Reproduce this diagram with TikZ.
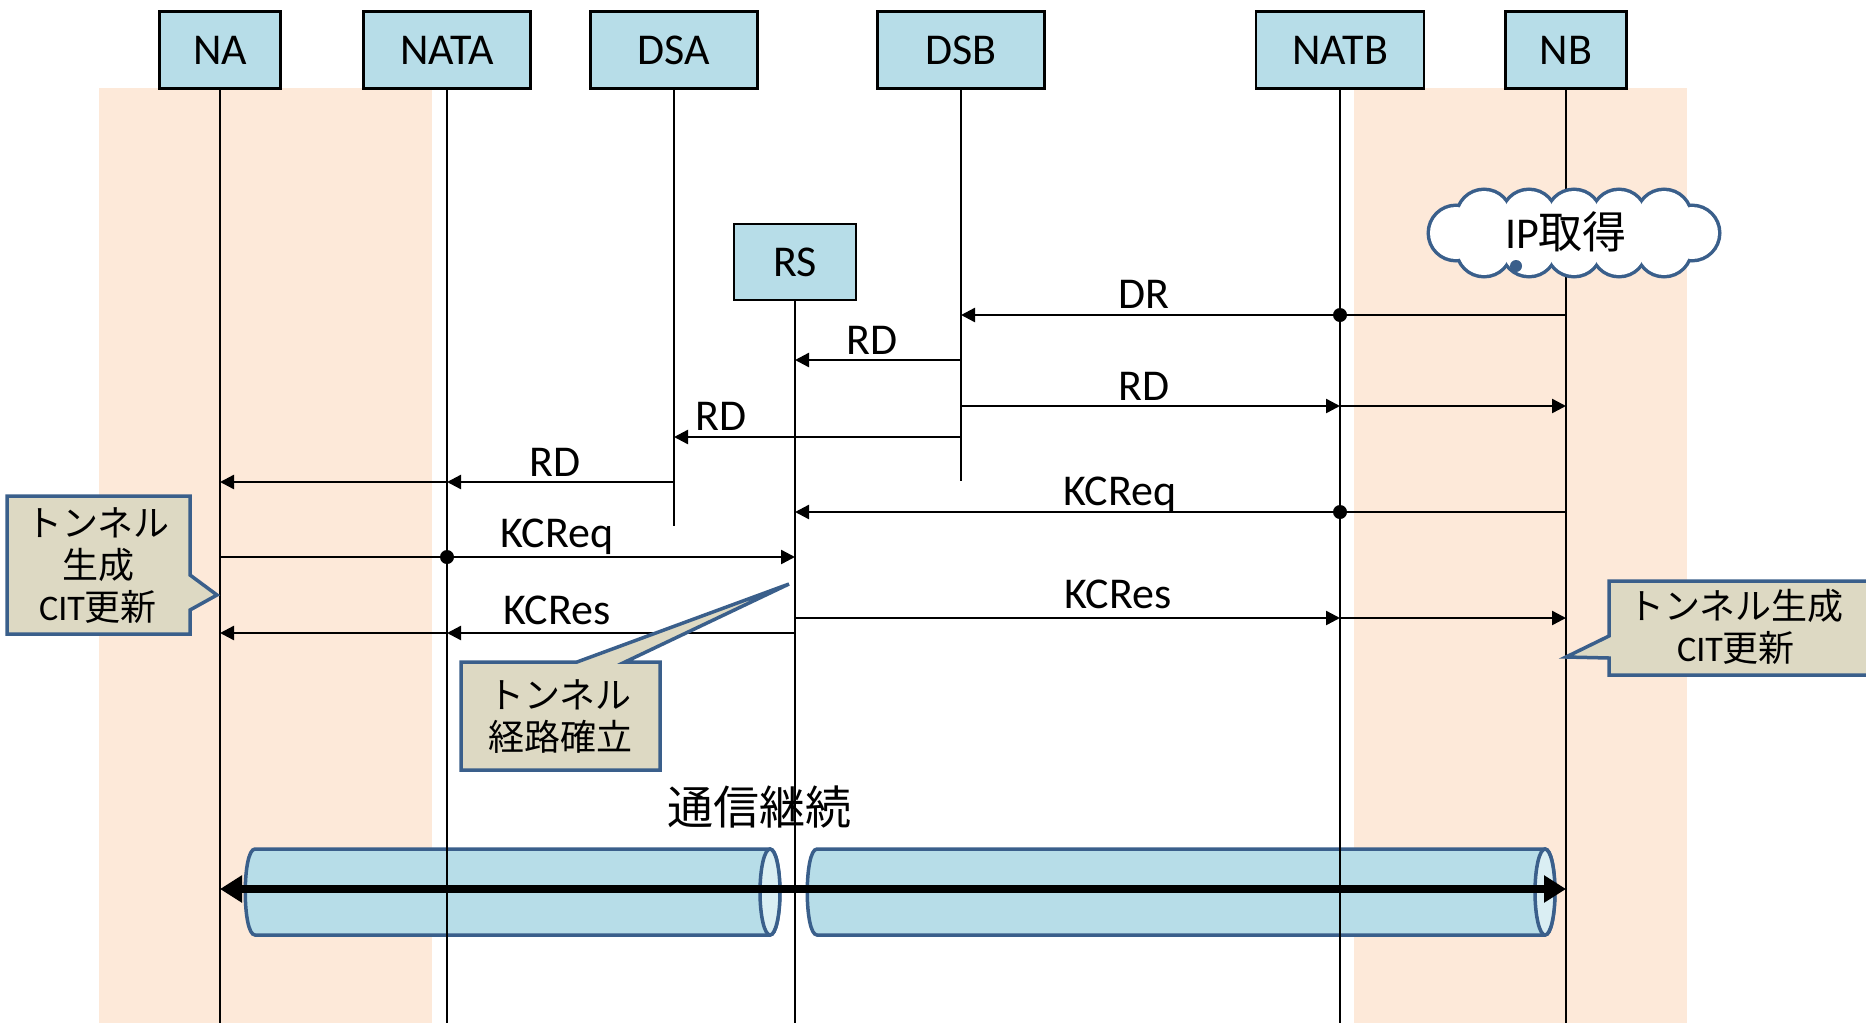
\documentclass[tikz,border=0pt]{standalone}
\usepackage{fontspec}
\setmainfont{Carlito}
\newfontfamily\jp{Noto Sans CJK JP}
\usetikzlibrary{arrows.meta}
\definecolor{boxblue}{HTML}{B7DDE8}
\definecolor{peach}{HTML}{FDE9D9}
\definecolor{notefill}{HTML}{DDD9C3}
\definecolor{noteline}{HTML}{3A5F8B}
\definecolor{tubeend}{HTML}{DAEEF3}

\begin{document}
\begin{tikzpicture}[x=1pt,y=-1pt,
  every node/.style={font=\fontsize{44}{50}\selectfont},
  actor/.style={draw,line width=2.4pt,fill=boxblue,minimum height=77pt,inner sep=0pt},
  life/.style={line width=1.6pt},
  msg/.style={line width=2.4pt,-{Triangle[length=14pt,width=14pt]}},
  joint/.style={circle,fill,inner sep=0pt,minimum size=14pt},
  note/.style={draw=noteline,fill=notefill,line width=3.5pt,line join=miter},
  notetext/.style={font=\fontsize{36}{42}\selectfont,align=center},
  tube/.style={draw=noteline,fill=boxblue,line width=3.5pt},
  tubecap/.style={draw=noteline,fill=tubeend,line width=3.5pt},
  puff/.style={draw=noteline,line width=7pt}]
\useasboundingbox (0,0) rectangle (1866,1023);
% bands behind the two end hosts
\fill[peach] (99,88) rectangle (432,1023);
\fill[peach] (1354,88) rectangle (1687,1023);
% hosts
\node[actor,minimum width=121pt] (na) at (220,50) {NA};
\node[actor,minimum width=167pt] (nata) at (447,50) {NATA};
\node[actor,minimum width=167pt] (dsa) at (674,50) {DSA};
\node[actor,minimum width=167pt] (dsb) at (961,50) {DSB};
\node[actor,minimum width=168pt] (natb) at (1340,50) {NATB};
\node[actor,minimum width=121pt] (nb) at (1566,50) {NB};
\node[actor,minimum width=122pt,minimum height=76pt] (rs) at (795,262) {RS};
% tunnels
\draw[tube] (255,849) -- (770,849) .. controls (783,849) and (783,935) .. (770,935)
  -- (255,935) .. controls (242,935) and (242,849) .. (255,849) -- cycle;
\draw[tubecap] (770,892) ellipse [x radius=10, y radius=43];
\draw[tube] (817,849) -- (1545,849) .. controls (1558,849) and (1558,935) .. (1545,935)
  -- (817,935) .. controls (804,935) and (804,849) .. (817,849) -- cycle;
\draw[tubecap] (1545,892) ellipse [x radius=10, y radius=43];
% rows
\coordinate (bottom) at (0,1023);
\coordinate (r1) at (0,315);
\coordinate (r2) at (0,360);
\coordinate (r3) at (0,406);
\coordinate (r4) at (0,437);
\coordinate (r5) at (0,482);
\coordinate (r6) at (0,512);
\coordinate (r7) at (0,557);
\coordinate (r8) at (0,618);
\coordinate (r9) at (0,633);
\coordinate (rt) at (0,889);
% lifelines
\draw[life] (na.south) -- (na |- bottom);
\draw[life] (nata.south) -- (nata |- bottom);
\draw[life] (dsa.south) -- (dsa |- 0,526);
\draw[life] (dsb.south) -- (dsb |- 0,481);
\draw[life] (natb.south) -- (natb |- bottom);
\draw[life] (nb.south) -- (nb |- bottom);
\draw[life] (rs.south) -- (rs |- bottom);
% messages
\draw[msg] (nb |- r1) -- (dsb |- r1);
\node[joint] (j1) at (natb |- r1) {};
\node[anchor=base] (m1) at (1144,308) {DR};
\draw[msg] (dsb |- r2) -- (rs |- r2);
\node[anchor=base] (m2) at (872,354) {RD};
\draw[msg] (dsb |- r3) -- (natb |- r3);
\draw[msg] (natb |- r3) -- (nb |- r3);
\node[anchor=base] (m3) at (1144,400) {RD};
\draw[msg] (dsb |- r4) -- (dsa |- r4);
\node[anchor=base] (m4) at (721,430) {RD};
\draw[msg] (dsa |- r5) -- (nata |- r5);
\draw[msg] (nata |- r5) -- (na |- r5);
\node[anchor=base] (m5) at (555,476) {RD};
\draw[msg] (nb |- r6) -- (rs |- r6);
\node[joint] (j6) at (natb |- r6) {};
\node[anchor=base] (m6) at (1120,505) {KCReq};
\draw[msg] (na |- r7) -- (rs |- r7);
\node[joint] (j7) at (nata |- r7) {};
\node[anchor=base] (m7) at (557,547) {KCReq};
\draw[msg] (rs |- r8) -- (natb |- r8);
\draw[msg] (natb |- r8) -- (nb |- r8);
\node[anchor=base] (m8) at (1118,608) {KCRes};
\draw[msg] (rs |- r9) -- (nata |- r9);
\draw[msg] (nata |- r9) -- (na |- r9);
\node[anchor=base] (m9) at (557,624) {KCRes};
% continued communication
\node[font=\jp\fontsize{46}{50}\selectfont] (keep) at (759,807) {通信継続};
\draw[line width=8pt,{Triangle[length=22pt,width=26pt]}-{Triangle[length=22pt,width=26pt]}]
  (na |- rt) -- (nb |- rt);
% address acquisition
\begin{scope}[shift={(1574,233)}]
\foreach \dx/\dy in {-90/-16,-45/-16,0/-16,45/-16,90/-16,-90/16,-45/16,0/16,45/16,90/16,-118/0,118/0}
  \draw[puff] (\dx,\dy) circle (26pt);
\foreach \dx/\dy in {-90/-16,-45/-16,0/-16,45/-16,90/-16,-90/16,-45/16,0/16,45/16,90/16,-118/0,118/0}
  \fill[white] (\dx,\dy) circle (26pt);
\fill[white] (0,0) ellipse [x radius=115, y radius=22];
\end{scope}
\fill[noteline] (1516,266) circle (6pt);
\node (ip) at (1566,232) {IP{\jp 取得}};
% callouts
\draw[note] (7,496) -- (190,496) -- (190,575) -- (217,595) -- (190,610) -- (190,634) -- (7,634) -- cycle;
\node[notetext] (noteL) at (98,566) {{\jp トンネル}\\{\jp 生成}\\CIT{\jp 更新}};
\draw[note] (461,662) -- (577,662) -- (789,584) -- (625,662) -- (660,662) -- (660,770) -- (461,770) -- cycle;
\node[notetext] (noteM) at (560,717) {{\jp トンネル}\\{\jp 経路確立}};
\draw[note] (1609,581) -- (1875,581) -- (1875,675) -- (1609,675) -- (1609,658) -- (1566,657) -- (1609,636) -- cycle;
\node[notetext] (noteR) at (1736,627) {{\jp トンネル生成}\\CIT{\jp 更新}};
\end{tikzpicture}
\end{document}
